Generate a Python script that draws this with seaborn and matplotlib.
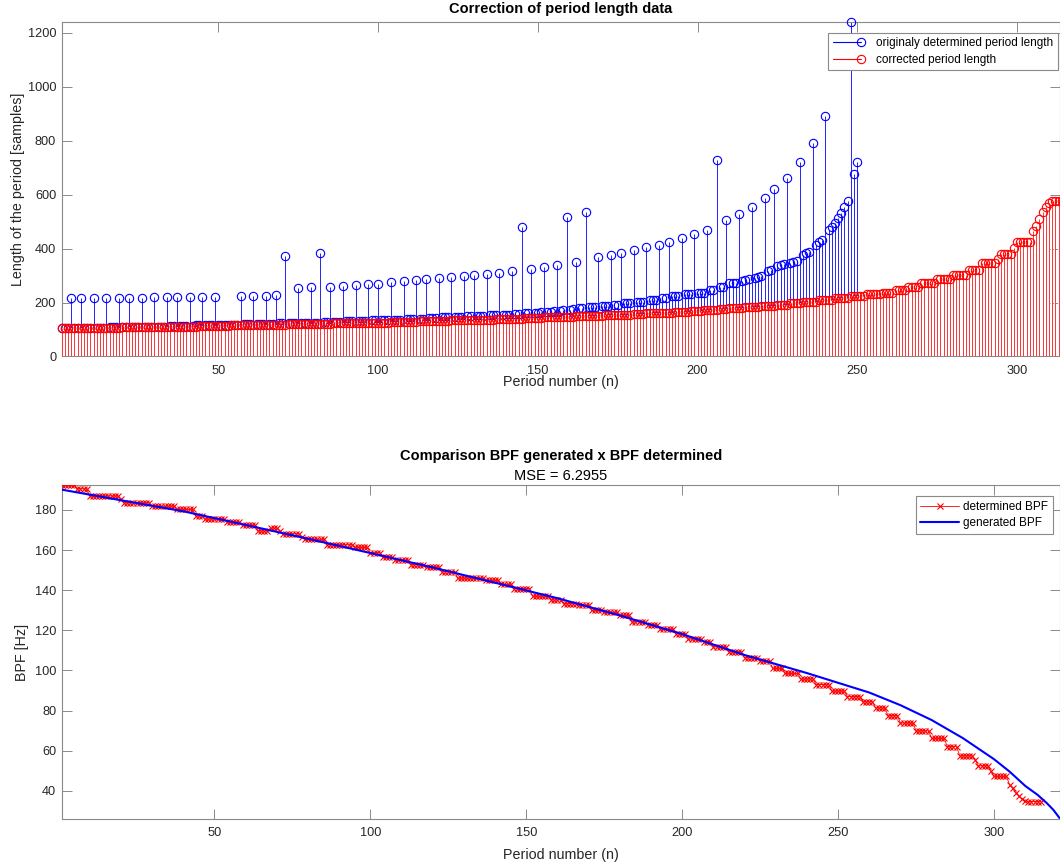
import numpy as np
import matplotlib
matplotlib.use("Agg")
import matplotlib.pyplot as plt
import seaborn as sns
from matplotlib.lines import Line2D
from matplotlib.legend_handler import HandlerBase

# ---------------------------------------------------------------- data
# period lengths as first detected (samples), index 1..250
original_period = [
    104, 104, 104, 216, 105, 105, 216, 107, 107, 107,
    216, 107, 107, 107, 217, 108, 109, 109, 217, 109,
    109, 218, 109, 110, 110, 218, 110, 110, 110, 219,
    111, 111, 111, 219, 113, 113, 220, 114, 114, 114,
    220, 114, 115, 115, 221, 115, 116, 116, 222, 116,
    118, 118, 118, 118, 117, 117, 224, 119, 119, 119,
    224, 119, 120, 121, 225, 121, 121, 227, 123, 123,
    372, 123, 123, 123, 253, 124, 124, 124, 256, 126,
    126, 384, 128, 128, 259, 129, 129, 129, 263, 131,
    131, 131, 266, 132, 132, 132, 270, 134, 134, 270,
    137, 137, 137, 276, 137, 137, 137, 280, 138, 138,
    138, 284, 140, 140, 287, 142, 142, 142, 290, 146,
    146, 146, 294, 148, 148, 148, 297, 150, 150, 303,
    151, 151, 151, 306, 154, 154, 154, 310, 155, 155,
    155, 317, 157, 157, 481, 161, 161, 326, 163, 163,
    166, 332, 166, 166, 169, 341, 169, 173, 516, 173,
    175, 351, 179, 179, 537, 183, 183, 183, 368, 188,
    188, 188, 377, 191, 191, 384, 198, 198, 198, 393,
    203, 203, 203, 405, 209, 209, 209, 415, 215, 215,
    425, 223, 223, 223, 439, 230, 230, 230, 453, 237,
    237, 237, 470, 246, 246, 729, 258, 258, 506, 271,
    271, 271, 529, 280, 283, 286, 556, 290, 295, 300,
    589, 318, 320, 620, 335, 338, 342, 661, 346, 350,
    355, 720, 377, 383, 389, 791, 414, 426, 432, 890,
    469, 481, 494, 512, 531, 556, 578, 1240, 676, 721,
]

# period lengths after splitting the merged periods (samples), index 1..315
corrected_period = [
    104, 104, 104, 104, 104, 105, 105, 105, 105, 107,
    107, 107, 107, 107, 107, 107, 107, 107, 107, 108,
    109, 109, 109, 109, 109, 109, 109, 109, 109, 110,
    110, 110, 110, 110, 110, 110, 110, 111, 111, 111,
    111, 111, 111, 113, 113, 113, 114, 114, 114, 114,
    114, 114, 114, 115, 115, 115, 115, 115, 116, 116,
    116, 116, 116, 118, 118, 118, 118, 117, 117, 117,
    118, 119, 119, 119, 119, 119, 119, 120, 121, 121,
    121, 121, 121, 121, 121, 123, 123, 123, 123, 123,
    123, 123, 123, 123, 124, 124, 124, 124, 124, 126,
    126, 126, 126, 128, 128, 128, 128, 129, 129, 129,
    129, 129, 131, 131, 131, 131, 131, 132, 132, 132,
    132, 132, 134, 134, 134, 134, 134, 137, 137, 137,
    137, 137, 137, 137, 137, 137, 138, 138, 138, 138,
    138, 140, 140, 140, 140, 142, 142, 142, 142, 142,
    142, 146, 146, 146, 146, 146, 146, 148, 148, 148,
    148, 150, 150, 150, 150, 150, 151, 151, 151, 151,
    154, 154, 154, 154, 155, 155, 155, 155, 155, 157,
    157, 157, 157, 161, 161, 161, 161, 161, 163, 163,
    163, 163, 166, 166, 166, 166, 166, 169, 169, 169,
    169, 173, 173, 173, 173, 173, 175, 175, 175, 179,
    179, 179, 179, 179, 183, 183, 183, 183, 183, 188,
    188, 188, 188, 188, 191, 191, 191, 191, 198, 198,
    198, 198, 203, 203, 203, 203, 203, 209, 209, 209,
    209, 209, 215, 215, 215, 215, 215, 223, 223, 223,
    223, 223, 230, 230, 230, 230, 230, 237, 237, 237,
    237, 246, 246, 246, 246, 258, 258, 258, 258, 271,
    271, 271, 271, 271, 286, 286, 286, 286, 286, 302,
    302, 302, 302, 302, 322, 322, 322, 322, 348, 348,
    348, 348, 348, 362, 381, 381, 381, 381, 402, 424,
    424, 424, 424, 424, 465, 485, 510, 535, 555, 570,
    576, 576, 576, 576, 576,
]

# BPF determined from the corrected periods (Hz), index 1..315
determined_bpf = [
    192.3, 192.3, 192.3, 192.3, 192.3, 190.5, 190.5, 190.5, 190.5, 186.9,
    186.9, 186.9, 186.9, 186.9, 186.9, 186.9, 186.9, 186.9, 186.9, 185.2,
    183.5, 183.5, 183.5, 183.5, 183.5, 183.5, 183.5, 183.5, 183.5, 181.8,
    181.8, 181.8, 181.8, 181.8, 181.8, 181.8, 181.8, 180.2, 180.2, 180.2,
    180.2, 180.2, 180.2, 177.0, 177.0, 177.0, 175.4, 175.4, 175.4, 175.4,
    175.4, 175.4, 175.4, 173.9, 173.9, 173.9, 173.9, 173.9, 172.4, 172.4,
    172.4, 172.4, 172.4, 169.5, 169.5, 169.5, 169.5, 170.9, 170.9, 170.9,
    169.5, 168.1, 168.1, 168.1, 168.1, 168.1, 168.1, 166.7, 165.3, 165.3,
    165.3, 165.3, 165.3, 165.3, 165.3, 162.6, 162.6, 162.6, 162.6, 162.6,
    162.6, 162.6, 162.6, 162.6, 161.3, 161.3, 161.3, 161.3, 161.3, 158.7,
    158.7, 158.7, 158.7, 156.3, 156.3, 156.3, 156.3, 155.0, 155.0, 155.0,
    155.0, 155.0, 152.7, 152.7, 152.7, 152.7, 152.7, 151.5, 151.5, 151.5,
    151.5, 151.5, 149.3, 149.3, 149.3, 149.3, 149.3, 146.0, 146.0, 146.0,
    146.0, 146.0, 146.0, 146.0, 146.0, 146.0, 144.9, 144.9, 144.9, 144.9,
    144.9, 142.9, 142.9, 142.9, 142.9, 140.8, 140.8, 140.8, 140.8, 140.8,
    140.8, 137.0, 137.0, 137.0, 137.0, 137.0, 137.0, 135.1, 135.1, 135.1,
    135.1, 133.3, 133.3, 133.3, 133.3, 133.3, 132.5, 132.5, 132.5, 132.5,
    129.9, 129.9, 129.9, 129.9, 129.0, 129.0, 129.0, 129.0, 129.0, 127.4,
    127.4, 127.4, 127.4, 124.2, 124.2, 124.2, 124.2, 124.2, 122.7, 122.7,
    122.7, 122.7, 120.5, 120.5, 120.5, 120.5, 120.5, 118.3, 118.3, 118.3,
    118.3, 115.6, 115.6, 115.6, 115.6, 115.6, 114.3, 114.3, 114.3, 111.7,
    111.7, 111.7, 111.7, 111.7, 109.3, 109.3, 109.3, 109.3, 109.3, 106.4,
    106.4, 106.4, 106.4, 106.4, 104.7, 104.7, 104.7, 104.7, 101.0, 101.0,
    101.0, 101.0, 98.5, 98.5, 98.5, 98.5, 98.5, 95.7, 95.7, 95.7,
    95.7, 95.7, 93.0, 93.0, 93.0, 93.0, 93.0, 89.7, 89.7, 89.7,
    89.7, 89.7, 87.0, 87.0, 87.0, 87.0, 87.0, 84.4, 84.4, 84.4,
    84.4, 81.3, 81.3, 81.3, 81.3, 77.5, 77.5, 77.5, 77.5, 73.8,
    73.8, 73.8, 73.8, 73.8, 69.9, 69.9, 69.9, 69.9, 69.9, 66.2,
    66.2, 66.2, 66.2, 66.2, 62.1, 62.1, 62.1, 62.1, 57.5, 57.5,
    57.5, 57.5, 57.5, 55.2, 52.5, 52.5, 52.5, 52.5, 49.8, 47.2,
    47.2, 47.2, 47.2, 47.2, 43.0, 41.2, 39.2, 37.4, 36.0, 35.1,
    34.7, 34.7, 34.7, 34.7, 34.7,
]

# BPF used to generate the signal (Hz)
generated_n = [1, 20, 40, 60, 80, 100, 120, 140, 160, 180, 200, 220,
               240, 260, 270, 280, 290, 300, 305, 310, 314, 317, 319, 321]
generated_bpf = [190.1, 184.8, 179.3, 172.5, 165.6, 158.5, 151.3, 143.7,
                 136.0, 127.4, 118.1, 107.7, 98.7, 89.0, 82.7, 75.3, 66.3,
                 55.8, 49.6, 42.5, 38.0, 33.8, 30.6, 26.5]

mse_value = 6.2955

# ---------------------------------------------------------------- style
sns.set_theme(style="white")
plt.rcParams["font.family"] = ["Liberation Sans", "DejaVu Sans"]

BLUE = "#0000ff"
RED = "#ff0000"
SPINE = "#8a8a8a"
TEXT = "#262626"

W, H = 1060, 866
fig = plt.figure(figsize=(W / 100, H / 100), dpi=100)


def px_axes(left, top, right, bottom):
    return fig.add_axes([left / W, 1 - bottom / H, (right - left) / W, (bottom - top) / H])


ax1 = px_axes(61.7, 21.7, 1059.5, 356.5)
ax2 = px_axes(61.7, 485.0, 1059.5, 819.0)

# ---------------------------------------------------------------- top: stem plot
n_orig = np.arange(1, len(original_period) + 1)
n_corr = np.arange(1, len(corrected_period) + 1)

ax1.vlines(n_orig, 0, original_period, colors=BLUE, lw=0.6, zorder=2)
ax1.plot(n_orig, original_period, ls="none", marker="o", ms=6, mfc="none",
         mec=BLUE, mew=0.8, clip_on=False, zorder=3)
# white backing so the corrected stems read as plain red over the blue ones
ax1.vlines(n_corr, 0, corrected_period, colors="white", lw=1.4, zorder=3.5)
ax1.vlines(n_corr, 0, corrected_period, colors=RED, lw=0.55, zorder=4)
ax1.plot(n_corr, corrected_period, ls="none", marker="o", ms=6, mfc="none",
         mec=RED, mew=0.8, clip_on=False, zorder=5)

ax1.set_xlim(1, 313.3)
ax1.set_ylim(0, 1241)
ax1.set_xticks(np.arange(50, 301, 50))
ax1.set_yticks(np.arange(0, 1201, 200))

# ---------------------------------------------------------------- bottom: BPF comparison
sns.lineplot(x=np.arange(1, len(determined_bpf) + 1), y=determined_bpf, ax=ax2,
             color=RED, lw=0.6, marker="x", markersize=4.5, markeredgewidth=0.8,
             markeredgecolor=RED, legend=False, zorder=3)
sns.lineplot(x=generated_n, y=generated_bpf, ax=ax2, color=BLUE, lw=1.5,
             legend=False, zorder=4)

ax2.set_xlim(1, 321)
ax2.set_ylim(26, 192.4)
ax2.set_xticks(np.arange(50, 301, 50))
ax2.set_yticks(np.arange(40, 181, 20))
ax2.set_xlabel("")
ax2.set_ylabel("")

for ax in (ax1, ax2):
    ax.tick_params(axis="both", direction="in", length=7, width=0.7, color=SPINE,
                   labelcolor=TEXT, labelsize=9.2, top=True, right=True,
                   bottom=True, left=True)
    ax.tick_params(axis="x", pad=6)
    ax.tick_params(axis="y", pad=4)
    for s in ax.spines.values():
        s.set_color(SPINE)
        s.set_linewidth(0.8)
    ax.set_facecolor("white")

# ---------------------------------------------------------------- text
fig.text(560.8 / W, 1 - 9 / H, "Correction of period length data", ha="center",
         va="center", fontsize=10.5, fontweight="bold", color="black")
fig.text(560.8 / W, 1 - 382 / H, "Period number (n)", ha="center", va="center",
         fontsize=10.3, color=TEXT)
fig.text(18 / W, 1 - 189 / H, "Length of the period [samples]", ha="center",
         va="center", rotation=90, fontsize=10.3, color=TEXT)

fig.text(560.8 / W, 1 - 456 / H, "Comparison BPF generated x BPF determined",
         ha="center", va="center", fontsize=10.5, fontweight="bold", color="black")
fig.text(560.8 / W, 1 - 476 / H, f"MSE = {mse_value}", ha="center", va="center",
         fontsize=10.5, color="black")
fig.text(560.8 / W, 1 - 855 / H, "Period number (n)", ha="center", va="center",
         fontsize=10.3, color=TEXT)
fig.text(22 / W, 1 - 652 / H, "BPF [Hz]", ha="center", va="center", rotation=90,
         fontsize=10.3, color=TEXT)


# ---------------------------------------------------------------- legends
class StemHandler(HandlerBase):
    """Legend key: a line with a hollow circle at its right end."""

    def create_artists(self, legend, orig_handle, xdescent, ydescent, width,
                       height, fontsize, trans):
        y = height / 2 - ydescent
        x0, x1 = -xdescent, -xdescent + width
        c = orig_handle.get_color()
        line = Line2D([x0, x1], [y, y], color=c, lw=0.8)
        mark = Line2D([x1], [y], ls="none", marker="o", ms=6, mfc="none",
                      mec=c, mew=0.8)
        line.set_transform(trans)
        mark.set_transform(trans)
        return [line, mark]


stem_handles = [Line2D([], [], color=BLUE), Line2D([], [], color=RED)]
leg1 = ax1.legend(stem_handles,
                  ["originaly determined period length", "corrected period length"],
                  handler_map={Line2D: StemHandler()},
                  loc="upper right", bbox_to_anchor=(1058 / W, 1 - 32.7 / H),
                  bbox_transform=fig.transFigure, borderaxespad=0,
                  fontsize=8.5, handlelength=2.4, handletextpad=1.25,
                  labelspacing=0.36, borderpad=0.4, fancybox=False,
                  framealpha=1, frameon=True)
leg1.get_frame().set_edgecolor(SPINE)
leg1.get_frame().set_linewidth(0.8)
for t in leg1.get_texts():
    t.set_color("black")

bpf_handles = [
    Line2D([], [], color=RED, lw=0.6, marker="x", ms=4.5, mew=0.8),
    Line2D([], [], color=BLUE, lw=1.5),
]
leg2 = ax2.legend(bpf_handles, ["determined BPF", "generated BPF"],
                  loc="upper right", bbox_to_anchor=(1052.7 / W, 1 - 496 / H),
                  bbox_transform=fig.transFigure, borderaxespad=0,
                  fontsize=8.5, handlelength=3.3, handletextpad=0.3,
                  labelspacing=0.36, borderpad=0.4, fancybox=False,
                  framealpha=1, frameon=True, numpoints=1)
leg2.get_frame().set_edgecolor(SPINE)
leg2.get_frame().set_linewidth(0.8)
for t in leg2.get_texts():
    t.set_color("black")

fig.savefig("out.png", dpi=100, facecolor="white")
